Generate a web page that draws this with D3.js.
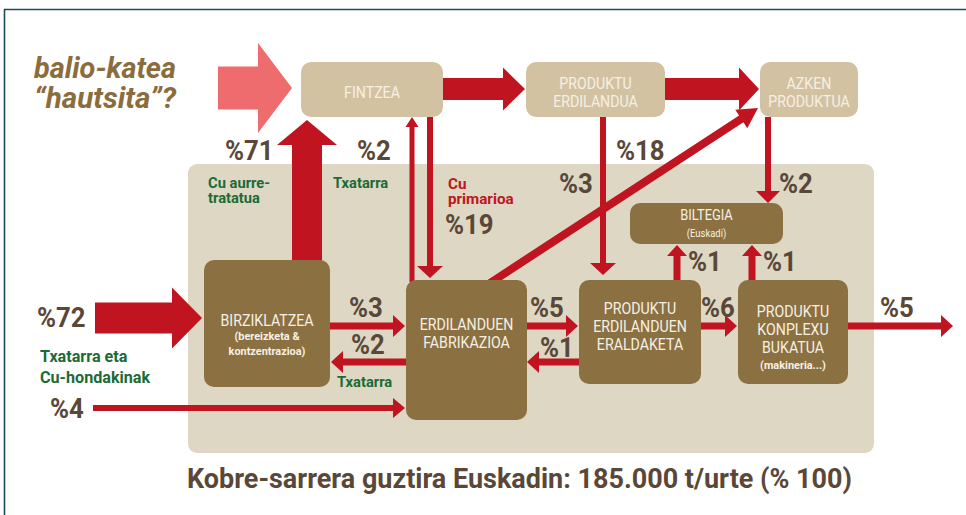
<!DOCTYPE html>
<html>
<head>
<meta charset="utf-8">
<script src="https://cdn.jsdelivr.net/npm/d3@7/dist/d3.min.js"></script>
<style>
  body { margin: 0; background: #fff; }
  svg { display: block; }
  text { font-family: Roboto, "Noto Sans", sans-serif; }
</style>
</head>
<body>
<div class="diagram"></div>
<script>
// --- data ---
const nodeIds    = ['fintzea', 'erdilandua', 'azken', 'biltegia', 'birz', 'fabrik', 'erald', 'konpl'];
const nodeLines  = [['FINTZEA'], ['PRODUKTU', 'ERDILANDUA'], ['AZKEN', 'PRODUKTUA'], ['BILTEGIA'],
                    ['BIRZIKLATZEA'], ['ERDILANDUEN', 'FABRIKAZIOA'], ['PRODUKTU', 'ERDILANDUEN', 'ERALDAKETA'],
                    ['PRODUKTU', 'KONPLEXU', 'BUKATUA']];
const nodeSubs   = [[], [], [], ['(Euskadi)'], ['(bereizketa &', 'kontzentrazioa)'], [], [], ['(makineria...)']];

const flowIds    = ['in72', 'up71', 'scrap2', 'prim19', 'fin_erd', 'erd_azk', 'erd3', 'diag18', 'azk2',
                    'bil1a', 'bil1b', 'b_f3', 'f_b2', 'in4', 'f_e5', 'e_f1', 'e_k6', 'out5', 'broken'];
const flowLabels = ['%72', '%71', '%2', '%19', '', '', '%3', '%18', '%2',
                    '%1', '%1', '%3', '%2', '%4', '%5', '%1', '%6', '%5', ''];

const noteTexts  = [['Cu aurre-', 'tratatua'], ['Txatarra'], ['Cu', 'primarioa'],
                    ['Txatarra eta', 'Cu-hondakinak'], ['Txatarra']];
const noteKinds  = ['green', 'green', 'red', 'green', 'green'];

const titleLines = ['balio-katea', '\u201Chautsita\u201D?'];
const caption    = 'Kobre-sarrera guztira Euskadin: 185.000 t/urte (% 100)';

// --- layout (positions only) ---
const boxPos = {
  fintzea:    {x: 301, y: 62,  w: 142, h: 55,  light: true,  base: 98},
  erdilandua: {x: 526, y: 62,  w: 139, h: 55,  light: true,  base: 89},
  azken:      {x: 760, y: 62,  w: 98,  h: 55,  light: true,  base: 89},
  biltegia:   {x: 630, y: 203, w: 153, h: 41,  light: false, base: 220, sub: 237},
  birz:       {x: 204, y: 260, w: 126, h: 127, light: false, base: 326, sub: 340},
  fabrik:     {x: 406, y: 280, w: 121, h: 140, light: false, base: 330},
  erald:      {x: 579, y: 280, w: 122, h: 104, light: false, base: 314},
  konpl:      {x: 738, y: 280, w: 110, h: 104, light: false, base: 317, sub: 369}
};
const arrowPos = {
  in72:    {x1: 95,  y1: 318, x2: 202, y2: 318, w: 31, hw: 61, hl: 30, lx: 37,  ly: 327},
  up71:    {x1: 307, y1: 262, x2: 307, y2: 120, w: 30, hw: 60, hl: 25, lx: 225, ly: 160},
  scrap2:  {x1: 412, y1: 282, x2: 412, y2: 117, w: 5,  hw: 13, hl: 10, lx: 357, ly: 160},
  prim19:  {x1: 430, y1: 117, x2: 430, y2: 278, w: 6,  hw: 26, hl: 12, lx: 445, ly: 234},
  fin_erd: {x1: 443, y1: 89,  x2: 525, y2: 89,  w: 22, hw: 43, hl: 22},
  erd_azk: {x1: 665, y1: 89,  x2: 759, y2: 89,  w: 22, hw: 43, hl: 20},
  erd3:    {x1: 603, y1: 117, x2: 603, y2: 275, w: 6,  hw: 26, hl: 12, lx: 559, ly: 193},
  diag18:  {x1: 490, y1: 283, x2: 758, y2: 108, w: 8,  hw: 22, hl: 20, lx: 616, ly: 160},
  azk2:    {x1: 768, y1: 117, x2: 768, y2: 203, w: 6,  hw: 24, hl: 12, lx: 779, ly: 193},
  bil1a:   {x1: 677, y1: 282, x2: 677, y2: 245, w: 7,  hw: 20, hl: 11, lx: 688, ly: 271},
  bil1b:   {x1: 752, y1: 282, x2: 752, y2: 245, w: 7,  hw: 20, hl: 11, lx: 763, ly: 271},
  b_f3:    {x1: 330, y1: 326, x2: 405, y2: 326, w: 7,  hw: 22, hl: 12, lx: 349, ly: 317},
  f_b2:    {x1: 406, y1: 362, x2: 331, y2: 362, w: 7,  hw: 22, hl: 12, lx: 351, ly: 354},
  in4:     {x1: 93,  y1: 408, x2: 405, y2: 408, w: 6,  hw: 20, hl: 12, lx: 50,  ly: 418},
  f_e5:    {x1: 527, y1: 326, x2: 578, y2: 326, w: 7,  hw: 22, hl: 12, lx: 530, ly: 317},
  e_f1:    {x1: 579, y1: 362, x2: 527, y2: 362, w: 7,  hw: 22, hl: 12, lx: 540, ly: 357},
  e_k6:    {x1: 701, y1: 326, x2: 737, y2: 326, w: 7,  hw: 22, hl: 12, lx: 701, ly: 317},
  out5:    {x1: 848, y1: 326, x2: 953, y2: 326, w: 7,  hw: 22, hl: 12, lx: 880, ly: 317},
  broken:  {x1: 218, y1: 88,  x2: 292, y2: 88,  w: 43, hw: 90, hl: 34, pink: true}
};
const notePos = [
  {x: 208, y: 188, size: 15.5, gap: 15, sx: 0.95},
  {x: 333, y: 188, size: 15.5, gap: 15, sx: 0.95},
  {x: 448, y: 189, size: 15.5, gap: 15, sx: 0.98},
  {x: 40,  y: 362, size: 17,   gap: 21, sx: 0.95},
  {x: 337, y: 387, size: 15.5, gap: 15, sx: 0.95}
];

const C = {
  panel: '#ddd7c4', light: '#d3c2a2', dark: '#8b7142', red: '#c01520', pink: '#ee6c6e',
  num: '#5a4738', green: '#1b6b35', title: '#8b6c3c', frame: '#1d4a5c', boxText: '#f6f0e4'
};

const width = 966, height = 515;
const svg = d3.select('.diagram').append('svg')
  .attr('width', width)
  .attr('height', height);

// frame
svg.append('path')
  .attr('d', 'M4.5,515 V9.5 H966')
  .attr('fill', 'none')
  .attr('stroke', C.frame)
  .attr('stroke-width', 1.6);

// background panel
svg.append('rect')
  .attr('x', 188).attr('y', 164)
  .attr('width', 686).attr('height', 289)
  .attr('rx', 9)
  .attr('fill', C.panel);

// arrows
const line = d3.line();
function arrowPoints(a) {
  const dx = a.x2 - a.x1, dy = a.y2 - a.y1;
  const len = Math.hypot(dx, dy);
  const ux = dx / len, uy = dy / len, nx = -uy, ny = ux;
  const bx = a.x2 - ux * a.hl, by = a.y2 - uy * a.hl;
  return [
    [a.x1 + nx * a.w / 2, a.y1 + ny * a.w / 2],
    [bx + nx * a.w / 2, by + ny * a.w / 2],
    [bx + nx * a.hw / 2, by + ny * a.hw / 2],
    [a.x2, a.y2],
    [bx - nx * a.hw / 2, by - ny * a.hw / 2],
    [bx - nx * a.w / 2, by - ny * a.w / 2],
    [a.x1 - nx * a.w / 2, a.y1 - ny * a.w / 2]
  ];
}
const flows = flowIds.map((id, i) => ({id, label: flowLabels[i], ...arrowPos[id]}));

svg.selectAll('path.arrow')
  .data(flows)
  .enter()
  .append('path')
  .attr('class', 'arrow')
  .attr('d', d => line(arrowPoints(d)) + 'Z')
  .attr('fill', d => d.pink ? C.pink : C.red);

// boxes
const nodes = nodeIds.map((id, i) => ({id, lines: nodeLines[i], subs: nodeSubs[i], ...boxPos[id]}));

const box = svg.selectAll('g.node')
  .data(nodes)
  .enter()
  .append('g')
  .attr('class', 'node');

box.append('rect')
  .attr('x', d => d.x).attr('y', d => d.y)
  .attr('width', d => d.w).attr('height', d => d.h)
  .attr('rx', 10)
  .attr('fill', d => d.light ? C.light : C.dark);

box.each(function(d) {
  const g = d3.select(this);
  const cx = d.x + d.w / 2;
  d.lines.forEach((t, j) => {
    g.append('text')
      .attr('transform', `translate(${cx},${d.base + j * 18}) scale(0.86,1)`)
      .attr('text-anchor', 'middle')
      .attr('font-size', d.id === 'biltegia' ? 15 : 16.5)
      .attr('fill', C.boxText)
      .text(t);
  });
  d.subs.forEach((t, j) => {
    g.append('text')
      .attr('transform', `translate(${cx},${d.sub + j * 15}) scale(0.95,1)`)
      .attr('text-anchor', 'middle')
      .attr('font-size', d.id === 'biltegia' ? 10 : 11.5)
      .attr('font-weight', d.id === 'biltegia' ? 400 : 700)
      .attr('fill', C.boxText)
      .text(t);
  });
});

// percentage labels
svg.selectAll('text.pct')
  .data(flows.filter(d => d.label))
  .enter()
  .append('text')
  .attr('class', 'pct')
  .attr('transform', d => `translate(${d.lx},${d.ly}) scale(0.92,1)`)
  .attr('font-size', 28)
  .attr('font-weight', 700)
  .attr('fill', C.num)
  .text(d => d.label);

// notes
const notes = noteTexts.map((lines, i) => ({lines, kind: noteKinds[i], ...notePos[i]}));
notes.forEach(n => {
  n.lines.forEach((t, j) => {
    svg.append('text')
      .attr('transform', `translate(${n.x},${n.y + j * n.gap}) scale(${n.sx},1)`)
      .attr('font-size', n.size)
      .attr('font-weight', 700)
      .attr('fill', n.kind === 'red' ? C.red : C.green)
      .text(t);
  });
});

// title
svg.selectAll('text.title')
  .data(titleLines)
  .enter()
  .append('text')
  .attr('class', 'title')
  .attr('x', 34)
  .attr('y', (d, i) => 78 + i * 30)
  .attr('font-size', 29)
  .attr('font-weight', 700)
  .attr('font-style', 'italic')
  .attr('fill', C.title)
  .attr('textLength', 142)
  .attr('lengthAdjust', 'spacingAndGlyphs')
  .text(d => d);

// caption
svg.append('text')
  .attr('x', 187)
  .attr('y', 488)
  .attr('font-size', 28)
  .attr('font-weight', 700)
  .attr('fill', C.num)
  .attr('textLength', 665)
  .attr('lengthAdjust', 'spacingAndGlyphs')
  .text(caption);
</script>
</body>
</html>
